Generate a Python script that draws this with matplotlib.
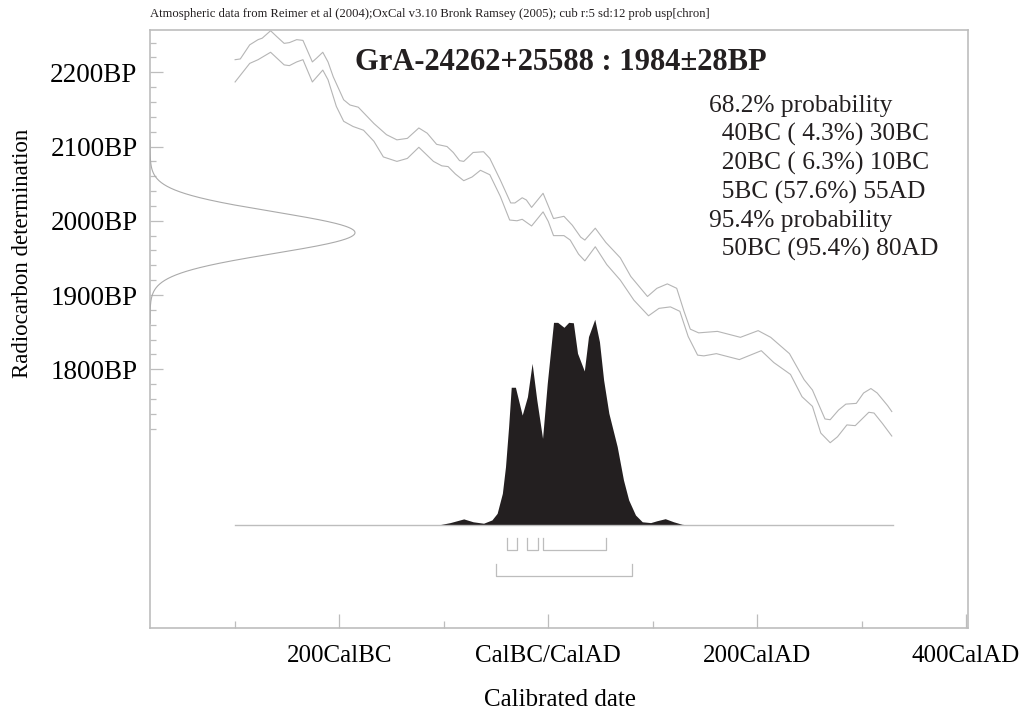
import matplotlib
matplotlib.use("Agg")
import matplotlib.pyplot as plt
import numpy as np

plt.rcParams["font.family"] = ["Liberation Serif", "DejaVu Serif"]

SOURCE_NOTE = ("Atmospheric data from Reimer et al (2004);OxCal v3.10 Bronk Ramsey (2005); "
               "cub r:5 sd:12 prob usp[chron]")
SAMPLE = "GrA-24262+25588"
BP_MEAN = 1984
BP_SIGMA = 28

YEAR_TICKS = [-200, 0, 200, 400]
YEAR_LABELS = ["200CalBC", "CalBC/CalAD", "200CalAD", "400CalAD"]
YEAR_MINOR = [-300, -100, 100, 300]
BP_TICKS = [1800, 1900, 2000, 2100, 2200]
BP_LABELS = ["1800BP", "1900BP", "2000BP", "2100BP", "2200BP"]
BP_MINOR = [1720, 1740, 1760, 1780, 1820, 1840, 1860, 1880, 1920, 1940, 1960, 1980,
            2020, 2040, 2060, 2080, 2120, 2140, 2160, 2180, 2220, 2240]

# calibration curve, upper and lower 1-sigma envelope
CURVE_UP_YEAR = [-300, -295, -286, -278, -274, -266, -260, -253, -248, -241,
                 -235, -226, -222, -216, -211, -206, -196, -190, -182, -167,
                 -155, -145, -135, -124, -116, -107, -97, -91, -85, -81,
                 -72, -62, -56, -46, -36, -32, -25, -21, -16, -5,
                 0, 5, 15, 23, 31, 35, 45, 55, 69, 79,
                 95, 104, 114, 123, 130, 136, 144, 162, 184, 201,
                 213, 231, 245, 253, 265, 270, 278, 285, 295, 302,
                 309, 315, 325, 329]
CURVE_UP_BP = [2217, 2218, 2237, 2244, 2246, 2256, 2248, 2239, 2240, 2244,
               2243, 2214, 2219, 2227, 2214, 2194, 2163, 2156, 2153, 2131,
               2116, 2109, 2111, 2125, 2118, 2103, 2100, 2092, 2081, 2080,
               2092, 2093, 2084, 2055, 2024, 2024, 2031, 2028, 2018, 2037,
               2020, 2003, 2006, 1994, 1978, 1974, 1990, 1971, 1950, 1925,
               1898, 1909, 1915, 1909, 1878, 1854, 1849, 1851, 1843, 1852,
               1843, 1821, 1786, 1772, 1733, 1732, 1745, 1753, 1754, 1768,
               1774, 1768, 1751, 1743]
CURVE_LO_YEAR = [-300, -286, -278, -266, -253, -248, -241, -235, -226, -216,
                 -211, -203, -196, -187, -177, -167, -158, -145, -135, -124,
                 -110, -102, -96, -89, -81, -73, -65, -56, -46, -37,
                 -30, -25, -16, -5, 0, 5, 15, 21, 29, 35,
                 45, 56, 69, 82, 96, 106, 117, 126, 134, 143,
                 149, 161, 183, 204, 216, 232, 243, 253, 261, 270,
                 277, 286, 294, 307, 312, 320, 329]
CURVE_LO_BP = [2187, 2212, 2217, 2227, 2210, 2209, 2214, 2217, 2187, 2203,
               2190, 2154, 2134, 2127, 2122, 2107, 2086, 2080, 2084, 2099,
               2080, 2074, 2073, 2063, 2054, 2059, 2068, 2062, 2033, 2001,
               2000, 2002, 1993, 2012, 1999, 1980, 1980, 1974, 1955, 1946,
               1965, 1941, 1920, 1893, 1872, 1882, 1884, 1878, 1844, 1819,
               1818, 1821, 1813, 1825, 1809, 1793, 1763, 1750, 1714, 1701,
               1709, 1725, 1724, 1742, 1741, 1727, 1710]

# calibrated probability (relative, peak = 100)
PROB_YEAR = [-300, -150, -104, -94, -81, -72, -62, -54, -49, -44,
             -41, -38, -35.5, -31.5, -25, -20, -15.5, -11, -5.5, -1,
             5, 9, 15, 19.5, 24, 28, 34.5, 38.5, 44.5, 49,
             53, 58, 66, 72, 77, 83.5, 90, 98, 104, 112,
             120, 128, 134.5, 330]
PROB_VALUE = [0, 0.2, 0.3, 1.3, 3.1, 1.7, 1.0, 2.6, 5.8, 15.5,
              28.4, 47.9, 67, 67, 53.5, 62.4, 78.6, 60.8, 42.2, 68.9,
              98.5, 98.5, 96.1, 98.5, 98.3, 83.5, 74.9, 91.6, 100, 89.1,
              70.5, 54.4, 38.2, 22, 12.3, 5, 1.7, 1.3, 2.2, 3.2,
              1.7, 0.5, 0.1, 0]

RANGES_68 = [(-40, -30), (-20, -10), (-5, 55)]
RANGES_95 = [(-50, 80)]

PROB_LINES = [
    "68.2% probability",
    "  40BC ( 4.3%) 30BC",
    "  20BC ( 6.3%) 10BC",
    "  5BC (57.6%) 55AD",
    "95.4% probability",
    "  50BC (95.4%) 80AD",
]

GREY = "#bdbdbd"
INK = "#231f20"

fig = plt.figure(figsize=(10.22, 7.1), dpi=100)
ax = fig.add_axes([150 / 1022, 1 - 628.3 / 710, 818 / 1022, 598.3 / 710])
ax.set_xlim(-381.5, 402)
ax.set_ylim(1451, 2257)

for s in ax.spines.values():
    s.set_color(GREY)
    s.set_linewidth(1.2)

ax.set_xticks(YEAR_TICKS)
ax.set_xticklabels(YEAR_LABELS)
ax.set_xticks(YEAR_MINOR, minor=True)
ax.set_yticks(BP_TICKS)
ax.set_yticklabels(BP_LABELS)
ax.set_yticks(BP_MINOR, minor=True)
ax.tick_params(axis="x", which="major", direction="in", length=10, width=0.9,
               color=GREY, labelsize=18, pad=12)
ax.tick_params(axis="x", which="minor", direction="in", length=5, width=0.9, color=GREY)
ax.tick_params(axis="y", which="major", direction="in", length=9.4, width=0.9,
               color=GREY, labelsize=19.5, pad=9)
ax.tick_params(axis="y", which="minor", direction="in", length=4.3, width=0.9, color=GREY)

ax.plot(CURVE_UP_YEAR, CURVE_UP_BP, color="#b5b5b5", lw=0.8)
ax.plot(CURVE_LO_YEAR, CURVE_LO_BP, color="#b5b5b5", lw=0.8)

ax.set_xlabel("Calibrated date", fontsize=18, va="center")
ax.xaxis.set_label_coords(0.501, -0.12)
ax.set_ylabel("Radiocarbon determination", fontsize=16.5, va="center")
ax.yaxis.set_label_coords(-0.156, 0.626)

# probability distribution on its own vertical scale
ax_p = ax.twinx()
ax_p.set_ylim(-50, 240.4)
ax_p.set_axis_off()
ax_p.fill_between(PROB_YEAR, 0, PROB_VALUE, color=INK, lw=0)
ax_p.plot([PROB_YEAR[0], PROB_YEAR[-1]], [0, 0], color=GREY, lw=1.0)
for a, b in RANGES_68:
    ax_p.plot([a, a, b, b], [-6.3, -12, -12, -6.3], color=GREY, lw=0.9)
for a, b in RANGES_95:
    ax_p.plot([a, a, b, b], [-18.9, -24.7, -24.7, -18.9], color=GREY, lw=0.9)

# radiocarbon measurement as a normal curve on the BP axis
ax_g = ax.twiny()
ax_g.set_xlim(0, 3.99)
ax_g.set_axis_off()
bp = np.linspace(1862, 2108, 500)
dens = np.exp(-0.5 * ((bp - BP_MEAN) / BP_SIGMA) ** 2)
ax_g.plot(dens, bp, color="#aaaaaa", lw=0.8)

ax.text(0.502, 0.945, f"{SAMPLE} : {BP_MEAN}\u00b1{BP_SIGMA}BP", transform=ax.transAxes,
        ha="center", va="center", fontsize=22, fontweight="bold", color=INK)

for i, line in enumerate(PROB_LINES):
    y_px = 112 + i * 28.75
    ax.text(0.683, (628.3 - y_px) / 598.3, line, transform=ax.transAxes,
            ha="left", va="baseline", fontsize=18.3, color=INK)

fig.text(150 / 1022, 1 - 14 / 710, SOURCE_NOTE, ha="left", va="center", fontsize=9.1, color=INK)

fig.savefig("out.png", dpi=100)
